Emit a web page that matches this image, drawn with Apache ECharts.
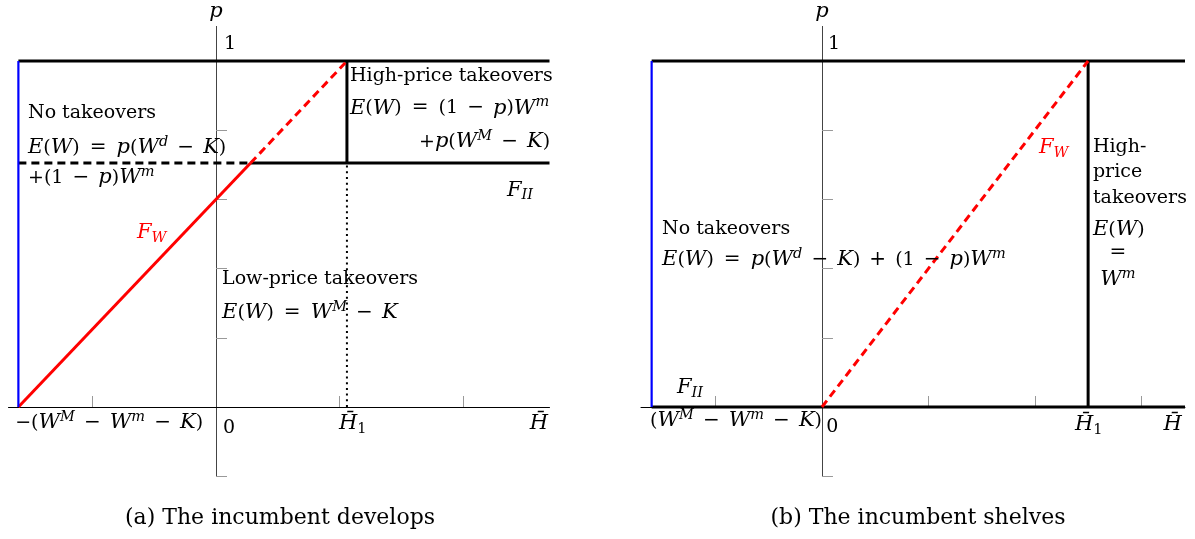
<!DOCTYPE html>
<html><head><meta charset="utf-8">
<script src="https://cdn.jsdelivr.net/npm/echarts@6/dist/echarts.min.js"></script>
<style>html,body{margin:0;padding:0;background:#fff}#c{width:1195px;height:539px}</style>
</head><body><div id="c"></div>
<script>
// ================= DATA =================
// Panel (a): the incumbent develops
const fwSolidA  = [[-1.6, 0], [0.28, 0.705]];
const fwDashA   = [[0.28, 0.705], [1.06, 1]];
const fiiDashA  = [[-1.6, 0.705], [0.28, 0.705]];
const fiiSolidA = [[0.28, 0.705], [2.7, 0.705]];
const topA      = [[-1.6, 1], [2.7, 1]];
const h1SolidA  = [[1.06, 0.705], [1.06, 1]];
const h1DotA    = [[1.06, 0], [1.06, 0.705]];
const blueA     = [[-1.6, 0], [-1.6, 1]];
// Panel (b): the incumbent shelves
const topB      = [[-1.6, 1], [3.41, 1]];
const fiiB      = [[-1.6, 0], [3.41, 0]];
const h1B       = [[2.5, 0], [2.5, 1]];
const fwDashB   = [[0, 0], [2.5, 1]];
const blueB     = [[-1.6, 0], [-1.6, 1]];
// ticks
const xTicksA = [-1, 1, 2];
const xTicksB = [-1, 1, 2, 3];
const yTicks  = [-0.2, 0.2, 0.4, 0.6, 0.8];
// tick / axis labels
const EQ = ' {eq|=} ';
const MI = ' {op|\u2212} ';
const PL = ' {op|+} ';
const lblP    = '{i|p}';
const lblOne  = '1';
const lblZero = '0';
const lblLeftA = '\u2212({i|W}{sup|M}' + MI + '{i|W}{sup|m}' + MI + '{i|K})';
const lblLeftB = '({i|W}{sup|M}' + MI + '{i|W}{sup|m}' + MI + '{i|K})';
const lblH1   = '{i|H\u0304}{sub|1}';
const lblH    = '{i|H\u0304}';
const lblFII  = '{i|F}{subi|II}';
const lblFW   = '{ri|F}{rsubi|W}';
// region texts
const txtNoTake = 'No takeovers';
const txtA1 = '{i|E}({i|W})' + EQ + '{i|p}({i|W}{sup|d}' + MI + '{i|K})';
const txtA2 = '+(1' + MI + '{i|p}){i|W}{sup|m}';
const txtHigh = 'High-price takeovers';
const txtH1 = '{i|E}({i|W})' + EQ + '(1' + MI + '{i|p}){i|W}{sup|m}';
const txtH2 = '+{i|p}({i|W}{sup|M}' + MI + '{i|K})';
const txtLow = 'Low-price takeovers';
const txtL1 = '{i|E}({i|W})' + EQ + '{i|W}{sup|M}' + MI + '{i|K}';
const txtB1 = '{i|E}({i|W})' + EQ + '{i|p}({i|W}{sup|d}' + MI + '{i|K})' + PL + '(1' + MI + '{i|p}){i|W}{sup|m}';
const txtHighB = ['High-', 'price', 'takeovers', '{i|E}({i|W})', '{eq|=}', '{i|W}{sup|m}'];
const captionA = '(a) The incumbent develops';
const captionB = '(b) The incumbent shelves';

// ================= LAYOUT =================
const FONT = 'DejaVu Serif';
const FS = 19, FI = 21, FSS = 14.5;
const INK = '#000';
const RICH = {
  i:     {fontFamily: FONT, fontSize: FI, fontStyle: 'italic', fill: INK, lineHeight: 26},
  eq:    {fontFamily: FONT, fontSize: 20, fill: INK, lineHeight: 26, padding: [0, 4, 0, 4]},
  op:    {fontFamily: FONT, fontSize: 20, fill: INK, lineHeight: 26, padding: [0, 3, 0, 3]},
  sup:   {fontFamily: FONT, fontSize: FSS, fontStyle: 'italic', fill: INK, lineHeight: 15, verticalAlign: 'top'},
  sub:   {fontFamily: FONT, fontSize: FSS, fill: INK, lineHeight: 13, verticalAlign: 'bottom'},
  subi:  {fontFamily: FONT, fontSize: FSS, fontStyle: 'italic', fill: INK, lineHeight: 13, verticalAlign: 'bottom'},
  ri:    {fontFamily: FONT, fontSize: FI, fontStyle: 'italic', fill: '#ff0000', lineHeight: 26},
  rsubi: {fontFamily: FONT, fontSize: FSS, fontStyle: 'italic', fill: '#ff0000', lineHeight: 13, verticalAlign: 'bottom'}
};
const annA = [
  {t: lblP, x: 0, y: 1.142, al: 'center'},
  {t: lblOne, x: 0.065, y: 1.049},
  {t: lblZero, x: 0.057, y: -0.06},
  {t: lblLeftA, x: -0.105, y: -0.046, al: 'right'},
  {t: lblH1, x: 0.996, y: -0.049},
  {t: lblH, x: 2.688, y: -0.049, al: 'right'},
  {t: lblFII, x: 2.356, y: 0.627},
  {t: lblFW, x: -0.64, y: 0.503},
  {t: txtNoTake, x: -1.522, y: 0.85},
  {t: txtA1, x: -1.522, y: 0.749},
  {t: txtA2, x: -1.522, y: 0.662},
  {t: txtHigh, x: 1.085, y: 0.957},
  {t: txtH1, x: 1.085, y: 0.864},
  {t: txtH2, x: 2.705, y: 0.766, al: 'right'},
  {t: txtLow, x: 0.049, y: 0.37},
  {t: txtL1, x: 0.049, y: 0.272}
];
const annB = [
  {t: lblP, x: 0, y: 1.142, al: 'center'},
  {t: lblOne, x: 0.056, y: 1.049},
  {t: lblZero, x: 0.04, y: -0.058},
  {t: lblLeftB, x: 0, y: -0.04, al: 'right'},
  {t: lblFII, x: -1.362, y: 0.055},
  {t: lblFW, x: 2.038, y: 0.749},
  {t: lblH1, x: 2.376, y: -0.052},
  {t: lblH, x: 3.38, y: -0.052, al: 'right'},
  {t: txtNoTake, x: -1.502, y: 0.514},
  {t: txtB1, x: -1.502, y: 0.425},
  {t: txtHighB[0], x: 2.545, y: 0.751},
  {t: txtHighB[1], x: 2.545, y: 0.679},
  {t: txtHighB[2], x: 2.545, y: 0.604},
  {t: txtHighB[3], x: 2.545, y: 0.512},
  {t: txtHighB[4], x: 2.78, y: 0.445, al: 'center'},
  {t: txtHighB[5], x: 2.78, y: 0.367, al: 'center'}
];

function seg(data, gi, color, width, type, z) {
  return {type: 'line', xAxisIndex: gi, yAxisIndex: gi, data: data, symbol: 'none', silent: true,
    z: z || 3, clip: false,
    lineStyle: {color: color, width: width, type: type || 'solid', cap: 'butt'}};
}
function labels(list, gi) {
  return {
    type: 'custom', coordinateSystem: 'cartesian2d', xAxisIndex: gi, yAxisIndex: gi,
    clip: false, silent: true, z: 10,
    data: list.map(a => [a.x, a.y]),
    renderItem: function (params, api) {
      const a = list[params.dataIndex];
      const pt = api.coord([api.value(0), api.value(1)]);
      return {type: 'text', x: pt[0], y: pt[1], silent: true,
        style: {text: a.t, fill: INK, fontFamily: FONT, fontSize: FS, lineHeight: 26,
          align: a.al || 'left', verticalAlign: 'middle', rich: RICH}};
    }
  };
}
function xAx(gi, min, max, ticks) {
  return {type: 'value', gridIndex: gi, min: min, max: max,
    axisLine: {show: true, onZero: true, lineStyle: {color: '#000', width: 1}},
    axisTick: {show: true, inside: true, length: 11, customValues: ticks, lineStyle: {color: '#999', width: 1}},
    axisLabel: {show: false}, splitLine: {show: false}};
}
function yAx(gi) {
  return {type: 'value', gridIndex: gi, min: -0.2, max: 1.1,
    axisLine: {show: true, onZero: true, lineStyle: {color: '#444', width: 1}},
    axisTick: {show: true, inside: true, length: 11, customValues: yTicks, lineStyle: {color: '#999', width: 1}},
    axisLabel: {show: false}, splitLine: {show: false}};
}

const chart = echarts.init(document.getElementById('c'), null, {renderer: 'canvas'});
chart.setOption({
  animation: false,
  backgroundColor: '#fff',
  textStyle: {fontFamily: FONT, color: INK},
  grid: [
    {left: 8.5, width: 541, top: 26.4, height: 449.8, containLabel: false, outerBoundsMode: 'none'},
    {left: 641, width: 544, top: 26.4, height: 449.8, containLabel: false, outerBoundsMode: 'none'}
  ],
  xAxis: [xAx(0, -1.68, 2.7, xTicksA), xAx(1, -1.7, 3.41, xTicksB)],
  yAxis: [yAx(0), yAx(1)],
  series: [
    seg(topA, 0, '#000', 3),
    seg(fiiSolidA, 0, '#000', 3),
    seg(fiiDashA, 0, '#000', 3, [8, 5]),
    seg(h1SolidA, 0, '#000', 3),
    seg(h1DotA, 0, '#000', 2, [2, 3.7]),
    seg(fwSolidA, 0, '#ff0000', 3, 'solid', 4),
    seg(fwDashA, 0, '#ff0000', 3, [8, 5], 4),
    seg(blueA, 0, '#0000ff', 2.2, 'solid', 5),
    seg(topB, 1, '#000', 3),
    seg(fiiB, 1, '#000', 3),
    seg(h1B, 1, '#000', 3),
    seg(fwDashB, 1, '#ff0000', 3, [8, 5], 4),
    seg(blueB, 1, '#0000ff', 2.2, 'solid', 5),
    labels(annA, 0),
    labels(annB, 1)
  ],
  graphic: [
    {type: 'text', x: 280, y: 518, style: {text: captionA, fontFamily: FONT, fontSize: 22, fill: '#000', align: 'center', verticalAlign: 'middle'}},
    {type: 'text', x: 918, y: 518, style: {text: captionB, fontFamily: FONT, fontSize: 22, fill: '#000', align: 'center', verticalAlign: 'middle'}}
  ]
});
</script></body></html>
